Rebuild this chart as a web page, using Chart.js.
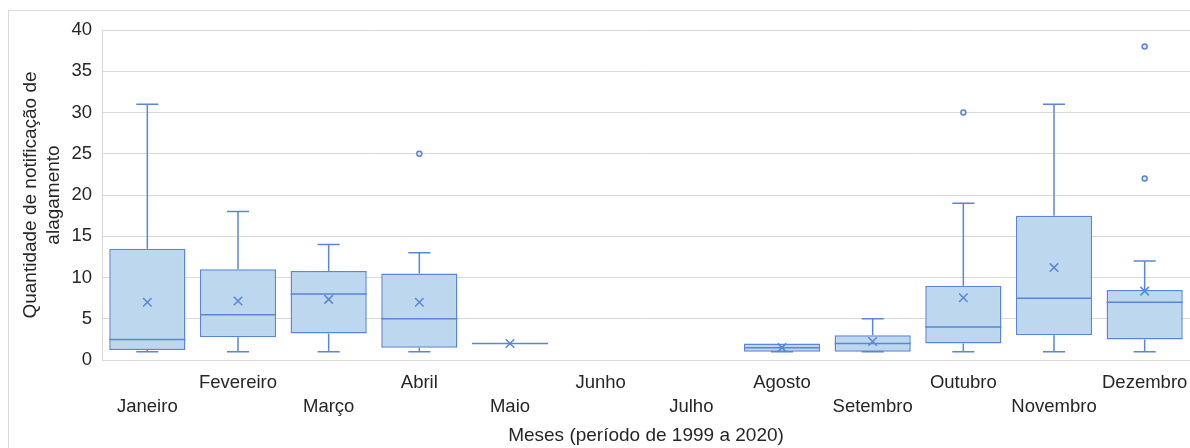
<!DOCTYPE html>
<html lang="pt">
<head>
<meta charset="utf-8">
<title>Notificações de alagamento por mês</title>
<script src="https://cdn.jsdelivr.net/npm/chart.js@4.4.1/dist/chart.umd.min.js"></script>
<style>
  html, body { margin: 0; padding: 0; background: #ffffff; }
  #wrap { width: 1190px; height: 448px; position: relative; }
</style>
</head>
<body>
<div id="wrap"><canvas id="chart" width="1190" height="448"></canvas></div>
<script>
// Monthly flooding notifications, 1999–2020: five-number summaries, means and outliers
const months = ['Janeiro', 'Fevereiro', 'Março', 'Abril', 'Maio', 'Junho',
                'Julho', 'Agosto', 'Setembro', 'Outubro', 'Novembro', 'Dezembro'];
const whiskerLow  = [1,    1,    1,    1,   2, null, null, 1,   1,    1,    1,    1];
const quartile1   = [1.2,  2.75, 3.2,  1.5, 2, null, null, 1,   1,    2,    3,    2.5];
const medians     = [2.5,  5.5,  8,    5,   2, null, null, 1.5, 2,    4,    7.5,  7];
const quartile3   = [13.5, 11,   10.8, 10.5,2, null, null, 2,   3,    9,    17.5, 8.5];
const whiskerHigh = [31,   18,   14,   13,  2, null, null, 2,   5,    19,   31,   12];
const means       = [7,    7.15, 7.35, 7,   2, null, null, 1.5, 2.25, 7.55, 11.2, 8.35];
const outliers    = [[], [], [], [25], [], [], [], [], [], [30], [], [22, 38]];
const yMin = 0, yMax = 40, yStep = 5;

const STROKE = '#5a86d5';
const FILL = '#bdd7ee';
const GRID = '#d9d9d9';
const TEXT = '#262626';
const FONT = "'Liberation Sans', Arial, sans-serif";
const TICK_SIZE = 18.5;
const TITLE_SIZE = 19;

// Alternate month names between two rows so they fit under each box
const staggeredLabels = months.map((m, i) => (i % 2 === 0 ? ['', m] : [m, '']));

// Outlier points split into layers (one point per month per layer)
const outlierLayers = [];
outliers.forEach((list, i) => {
  list.forEach((v, k) => {
    if (!outlierLayers[k]) outlierLayers[k] = months.map(() => null);
    outlierLayers[k][i] = v;
  });
});

// Whiskers, caps and median lines, positioned through the chart scales
const boxPlotLines = {
  id: 'boxPlotLines',
  beforeDatasetsDraw(chart) {
    const { ctx, scales: { x, y } } = chart;
    const meta = chart.getDatasetMeta(0);
    ctx.save();
    ctx.strokeStyle = STROKE;
    ctx.lineWidth = 1.5;
    months.forEach((m, i) => {
      if (quartile1[i] == null) return;
      const el = meta.data[i];
      const cx = x.getPixelForValue(i);
      const cap = el.width * 0.145;
      const yLo = y.getPixelForValue(whiskerLow[i]);
      const yHi = y.getPixelForValue(whiskerHigh[i]);
      const yQ1 = y.getPixelForValue(quartile1[i]);
      const yQ3 = y.getPixelForValue(quartile3[i]);
      ctx.beginPath();
      if (whiskerHigh[i] > quartile3[i]) {
        ctx.moveTo(cx, yQ3); ctx.lineTo(cx, yHi);
        ctx.moveTo(cx - cap, yHi); ctx.lineTo(cx + cap, yHi);
      }
      if (whiskerLow[i] <= quartile1[i] && quartile1[i] !== quartile3[i]) {
        ctx.moveTo(cx, yQ1); ctx.lineTo(cx, yLo);
        ctx.moveTo(cx - cap, yLo); ctx.lineTo(cx + cap, yLo);
      }
      ctx.stroke();
    });
    ctx.restore();
  },
  afterDatasetDraw(chart, args) {
    if (args.index !== 0) return;
    const { ctx, scales: { x, y } } = chart;
    const meta = chart.getDatasetMeta(0);
    ctx.save();
    ctx.strokeStyle = STROKE;
    ctx.lineWidth = 1.5;
    months.forEach((m, i) => {
      if (medians[i] == null) return;
      const el = meta.data[i];
      const cx = x.getPixelForValue(i);
      const half = el.width / 2;
      const ym = y.getPixelForValue(medians[i]);
      ctx.beginPath();
      ctx.moveTo(cx - half, ym);
      ctx.lineTo(cx + half, ym);
      ctx.stroke();
    });
    ctx.restore();
  }
};

// Light frame around the whole chart
const chartFrame = {
  id: 'chartFrame',
  beforeDraw(chart) {
    const { ctx } = chart;
    ctx.save();
    ctx.strokeStyle = GRID;
    ctx.lineWidth = 1;
    ctx.strokeRect(8.5, 10.5, chart.width + 20, chart.height + 20);
    ctx.restore();
  }
};

const datasets = [
  {
    type: 'bar',
    label: 'Caixa',
    data: quartile1.map((q, i) => (q == null ? null : [q, quartile3[i]])),
    backgroundColor: FILL,
    borderColor: STROKE,
    borderWidth: 1.5,
    borderSkipped: false,
    barPercentage: 0.84,
    categoryPercentage: 1,
    order: 3
  },
  {
    type: 'line',
    label: 'Média',
    data: means,
    showLine: false,
    pointStyle: 'crossRot',
    pointRadius: 6,
    pointBorderWidth: 1.5,
    borderColor: STROKE,
    backgroundColor: STROKE,
    order: 1
  }
];
outlierLayers.forEach((layer, k) => {
  datasets.push({
    type: 'line',
    label: 'Outlier ' + (k + 1),
    data: layer,
    showLine: false,
    pointStyle: 'circle',
    pointRadius: 2.5,
    pointBorderWidth: 1.5,
    borderColor: STROKE,
    backgroundColor: '#e4ecf8',
    order: 0
  });
});

new Chart(document.getElementById('chart'), {
  type: 'bar',
  data: { labels: staggeredLabels, datasets },
  plugins: [chartFrame, boxPlotLines],
  options: {
    responsive: false,
    animation: false,
    events: [],
    layout: { autoPadding: false, padding: { top: 30, right: 0, bottom: 0, left: 0 } },
    plugins: {
      legend: { display: false },
      tooltip: { enabled: false }
    },
    scales: {
      x: {
        offset: true,
        grid: { display: false },
        border: { display: true, color: GRID },
        ticks: {
          autoSkip: false,
          maxRotation: 0,
          minRotation: 0,
          padding: 3,
          color: TEXT,
          font: { family: FONT, size: TICK_SIZE, lineHeight: 24 / TICK_SIZE }
        },
        title: {
          display: true,
          text: 'Meses (período de 1999 a 2020)',
          color: TEXT,
          font: { family: FONT, size: TITLE_SIZE },
          padding: { top: 0, bottom: 1 }
        },
        afterFit(scale) {
          scale.height = 88;
          scale.paddingLeft = 0;
          scale.paddingRight = 0;
        }
      },
      y: {
        min: yMin,
        max: yMax,
        grid: { color: GRID, drawTicks: false },
        border: { display: true, color: GRID },
        ticks: {
          stepSize: yStep,
          padding: 10,
          color: TEXT,
          font: { family: FONT, size: TICK_SIZE }
        },
        title: {
          display: true,
          text: ['Quantidade de notificação de', 'alagamento'],
          color: TEXT,
          font: { family: FONT, size: TITLE_SIZE, lineHeight: 23 / TITLE_SIZE },
          padding: { top: 19, bottom: 0 }
        },
        afterFit(scale) { scale.width = 102; }
      }
    }
  }
});
</script>
</body>
</html>
